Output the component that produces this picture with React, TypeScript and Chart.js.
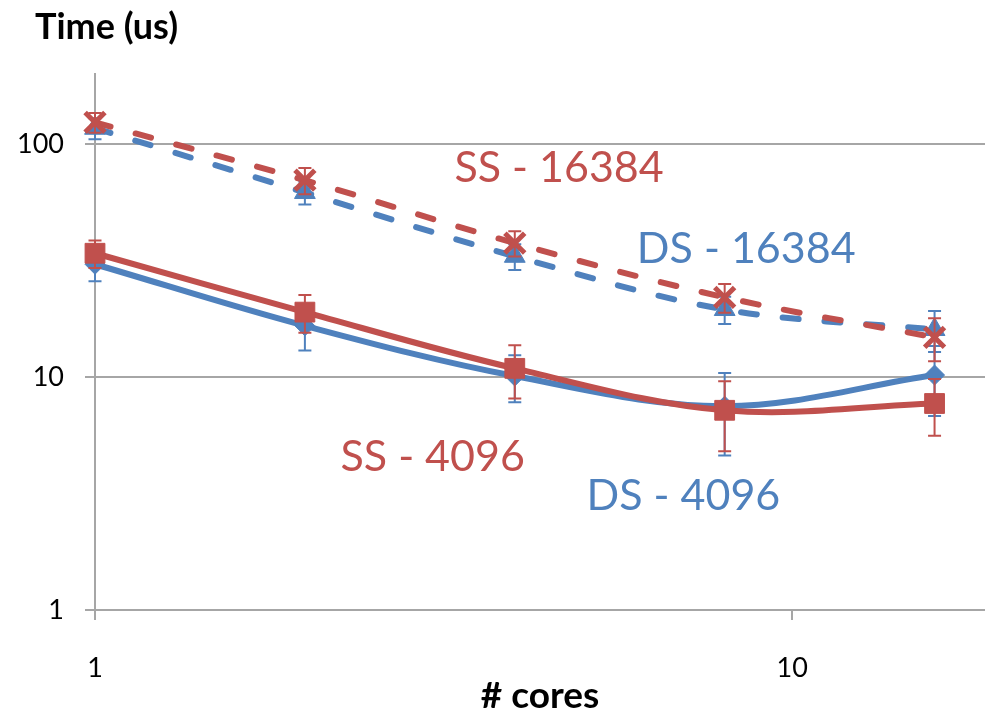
import React, { useEffect, useRef } from 'react';
import { Chart, registerables } from 'chart.js';

Chart.register(...registerables);

// ---- data ----
const cores = [1, 2, 4, 8, 16];
const ss4096 = [34, 19, 10.9, 7.2, 7.7];
const ss4096Err = [4.6, 3.5, 2.8, 2.4, 2.1];
const ss16384 = [124, 70, 37.6, 22, 14.8];
const ss16384Err = [12, 9, 4.7, 3.1, 3.1];
const ds4096 = [30.5, 16.6, 10.1, 7.5, 10.2];
const ds4096Err = [4.7, 3.6, 2.3, 2.9, 3.4];
const ds16384 = [117, 62, 33, 19.5, 16];
const ds16384Err = [12, 7, 4.2, 2.6, 3.2];
const yTickValues = [1, 10, 100];
const xTickValues = [1, 10];
const seriesNames = ['SS - 4096', 'SS - 16384', 'DS - 4096', 'DS - 16384'];
const yTitle = 'Time (us)';
const xTitle = '# cores';

const RED = '#C0504D';
const BLUE = '#4F81BD';
const GRID = '#A6A6A6';
const FONT = 'Lato, "Open Sans", "DejaVu Sans", sans-serif';

// series label placement, in data units (x = cores, y = time)
const seriesLabelAt = [
  { name: seriesNames[0], x: 3.05, y: 4.55, color: RED },
  { name: seriesNames[1], x: 4.63, y: 79, color: RED },
  { name: seriesNames[2], x: 6.98, y: 3.08, color: BLUE },
  { name: seriesNames[3], x: 8.59, y: 35.5, color: BLUE },
];

const errors = [ss4096Err, ss16384Err, ds4096Err, ds16384Err];

const toPoints = (vals: number[]) => cores.map((c, i) => ({ x: c, y: vals[i] }));

const errorBarPlugin = {
  id: 'errorBars',
  beforeDatasetDraw(chart: any, args: any) {
    const i = args.index;
    const errs = errors[i];
    if (!errs) return;
    const ds = chart.data.datasets[i];
    const { ctx, scales } = chart;
    ctx.save();
    ctx.strokeStyle = ds.borderColor;
    ctx.lineWidth = 2;
    ctx.setLineDash([]);
    ds.data.forEach((p: any, j: number) => {
      const px = scales.x.getPixelForValue(p.x);
      const top = scales.y.getPixelForValue(p.y + errs[j]);
      const bot = scales.y.getPixelForValue(p.y - errs[j]);
      ctx.beginPath();
      ctx.moveTo(px, top);
      ctx.lineTo(px, bot);
      ctx.moveTo(px - 6.5, top);
      ctx.lineTo(px + 6.5, top);
      ctx.moveTo(px - 6.5, bot);
      ctx.lineTo(px + 6.5, bot);
      ctx.stroke();
    });
    ctx.restore();
  },
};

const textPlugin = {
  id: 'chartTexts',
  afterDraw(chart: any) {
    const { ctx, scales } = chart;
    ctx.save();
    ctx.textAlign = 'center';
    ctx.textBaseline = 'middle';
    ctx.font = `43px ${FONT}`;
    seriesLabelAt.forEach((l) => {
      ctx.fillStyle = l.color;
      ctx.fillText(l.name, scales.x.getPixelForValue(l.x), scales.y.getPixelForValue(l.y));
    });
    ctx.textAlign = 'left';
    ctx.textBaseline = 'alphabetic';
    ctx.fillStyle = '#000';
    ctx.font = `bold 36px ${FONT}`;
    ctx.fillText(yTitle, 35, 39);
    ctx.restore();
  },
};

export default function App() {
  const ref = useRef<HTMLCanvasElement>(null);
  useEffect(() => {
    if (!ref.current) return;
    const lineCommon = {
      borderWidth: 6,
      tension: 0.35,
      borderCapStyle: 'round',
      borderJoinStyle: 'round',
      pointBorderWidth: 1,
    };
    const chart = new Chart(ref.current, {
      type: 'line',
      data: {
        datasets: [
          {
            ...lineCommon,
            label: seriesNames[0],
            data: toPoints(ss4096),
            borderColor: RED,
            backgroundColor: RED,
            pointBackgroundColor: RED,
            pointBorderColor: RED,
            pointStyle: 'rect',
            pointRadius: 14,
          },
          {
            ...lineCommon,
            label: seriesNames[1],
            data: toPoints(ss16384),
            borderColor: RED,
            backgroundColor: RED,
            pointBackgroundColor: RED,
            pointBorderColor: RED,
            borderDash: [16, 26],
            pointStyle: 'crossRot',
            pointRadius: 14,
            pointBorderWidth: 5,
          },
          {
            ...lineCommon,
            label: seriesNames[2],
            data: toPoints(ds4096),
            borderColor: BLUE,
            backgroundColor: BLUE,
            pointBackgroundColor: BLUE,
            pointBorderColor: BLUE,
            pointStyle: 'rectRot',
            pointRadius: 10,
          },
          {
            ...lineCommon,
            label: seriesNames[3],
            data: toPoints(ds16384),
            borderColor: BLUE,
            backgroundColor: BLUE,
            pointBackgroundColor: BLUE,
            pointBorderColor: BLUE,
            borderDash: [16, 26],
            pointStyle: 'triangle',
            pointRadius: 12,
          },
        ],
      },
      options: {
        animation: false,
        responsive: false,
        devicePixelRatio: 1,
        events: [],
        clip: false,
        layout: { autoPadding: false, padding: { left: 0, top: 74, right: 0, bottom: 0 } },
        plugins: {
          legend: { display: false },
          tooltip: { enabled: false },
          title: { display: false },
        },
        scales: {
          x: {
            type: 'logarithmic',
            min: 1,
            max: 18.9,
            afterBuildTicks: (s: any) => {
              s.ticks = xTickValues.map((v) => ({ value: v }));
            },
            afterFit: (s: any) => {
              s.height = 110;
              s.paddingLeft = 0;
              s.paddingRight = 0;
            },
            grid: {
              drawOnChartArea: false,
              drawTicks: true,
              tickLength: 10,
              color: GRID,
              lineWidth: 2,
            },
            border: { display: true, color: GRID, width: 2 },
            ticks: {
              color: '#000',
              font: { family: FONT, size: 27 },
              padding: 32,
              maxRotation: 0,
              autoSkip: false,
              callback: (v: any) => String(v),
            },
            title: {
              display: true,
              text: xTitle,
              color: '#000',
              font: { family: FONT, size: 37, weight: 'bold' },
              padding: { top: 2, bottom: 2 },
            },
          },
          y: {
            type: 'logarithmic',
            min: 1,
            max: 200,
            afterBuildTicks: (s: any) => {
              s.ticks = yTickValues.map((v) => ({ value: v }));
            },
            afterFit: (s: any) => {
              s.width = 95;
              s.paddingTop = 0;
              s.paddingBottom = 0;
            },
            grid: {
              drawOnChartArea: true,
              drawTicks: true,
              tickLength: 10,
              color: GRID,
              lineWidth: 2,
            },
            border: { display: true, color: GRID, width: 2 },
            ticks: {
              color: '#000',
              font: { family: FONT, size: 27 },
              padding: 21,
              autoSkip: false,
              callback: (v: any) => String(v),
            },
          },
        },
      },
      plugins: [errorBarPlugin, textPlugin],
    } as any);
    return () => chart.destroy();
  }, []);
  return (
    <div style={{ position: 'fixed', left: 0, top: 0, width: 985, height: 720, background: '#fff' }}>
      <canvas ref={ref} width={985} height={720} />
    </div>
  );
}
